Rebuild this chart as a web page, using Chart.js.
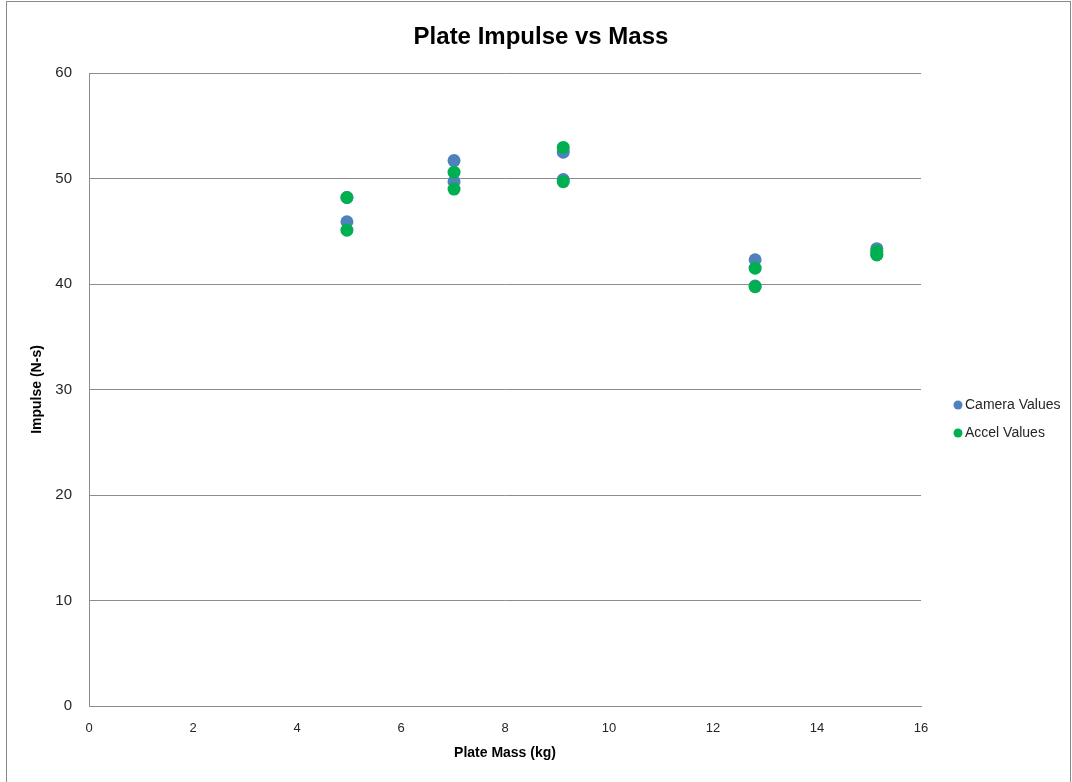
<!DOCTYPE html>
<html>
<head>
<meta charset="utf-8">
<title>Plate Impulse vs Mass</title>
<script src="https://cdn.jsdelivr.net/npm/chart.js@4.4.1/dist/chart.umd.min.js"></script>
<style>
  html, body { margin: 0; padding: 0; background: #ffffff; }
  #wrap { position: relative; width: 1072px; height: 782px; }
  canvas { display: block; }
</style>
</head>
<body>
<div id="wrap"><canvas id="chart" width="1072" height="782"></canvas></div>
<script>
// Plate mass for each drop (two drops per plate)
const massKg = [4.96, 4.96, 7.02, 7.02, 9.12, 9.12, 12.81, 12.81, 15.15, 15.15];
// Impulse from camera tracking (N-s)
const cameraImpulse = [48.2, 45.9, 51.7, 49.7, 52.5, 49.9, 42.3, 39.8, 43.35, 42.8];
// Impulse from accelerometer (N-s)
const accelImpulse = [48.2, 45.1, 50.6, 49.0, 52.95, 49.7, 41.5, 39.75, 43.1, 42.75];

const seriesNames = ['Camera Values', 'Accel Values'];
const seriesColors = ['#4F81BD', '#00B050'];
const chartTitle = 'Plate Impulse vs Mass';

const xTicks = [0, 2, 4, 6, 8, 10, 12, 14, 16];
const yTicks = [0, 10, 20, 30, 40, 50, 60];

const FONT = "'Liberation Sans', 'DejaVu Sans', sans-serif";

function toPoints(xs, ys) {
  return xs.map((x, i) => ({ x: x, y: ys[i] }));
}

// Outer frame, centred title and right-hand legend
const frameTitleLegend = {
  id: 'frameTitleLegend',
  afterDraw(chart) {
    const ctx = chart.ctx;
    ctx.save();
    ctx.strokeStyle = '#8a8a8a';
    ctx.lineWidth = 1;
    ctx.strokeRect(6.5, 1.5, 1064, 800);

    ctx.fillStyle = '#000000';
    ctx.font = 'bold 24px ' + FONT;
    ctx.textAlign = 'center';
    ctx.textBaseline = 'middle';
    ctx.fillText(chartTitle, chart.width / 2 + 5, 37);

    const lx = 958, ly = [405, 433];
    ctx.font = '14px ' + FONT;
    ctx.textAlign = 'left';
    chart.data.datasets.forEach((ds, i) => {
      ctx.fillStyle = ds.backgroundColor;
      ctx.beginPath();
      ctx.arc(lx, ly[i], 4.5, 0, Math.PI * 2);
      ctx.fill();
      ctx.fillStyle = '#262626';
      ctx.fillText(ds.label, lx + 7, ly[i] + 0.5);
    });
    ctx.restore();
  }
};

new Chart(document.getElementById('chart'), {
  type: 'scatter',
  data: {
    datasets: [
      {
        label: seriesNames[0],
        data: toPoints(massKg, cameraImpulse),
        backgroundColor: seriesColors[0],
        borderWidth: 0,
        pointRadius: 6.5,
        pointHoverRadius: 6.5,
        order: 2
      },
      {
        label: seriesNames[1],
        data: toPoints(massKg, accelImpulse),
        backgroundColor: seriesColors[1],
        borderWidth: 0,
        pointRadius: 6.5,
        pointHoverRadius: 6.5,
        order: 1
      }
    ]
  },
  options: {
    responsive: false,
    animation: false,
    events: [],
    layout: { padding: { left: 0, right: 151, top: 73, bottom: 0 } },
    plugins: {
      legend: { display: false },
      tooltip: { enabled: false },
      title: { display: false }
    },
    scales: {
      x: {
        type: 'linear',
        min: 0,
        max: 16,
        afterFit(scale) { scale.height = 76; },
        afterBuildTicks(scale) { scale.ticks = xTicks.map(v => ({ value: v })); },
        grid: { display: false, drawTicks: false },
        border: { display: true, color: '#8c8c8c', width: 1 },
        ticks: {
          padding: 15,
          color: '#262626',
          maxRotation: 0,
          font: { family: FONT, size: 13 }
        },
        title: {
          display: true,
          text: 'Plate Mass (kg)',
          color: '#000000',
          font: { family: FONT, size: 14, weight: 'bold', lineHeight: 1.2 },
          padding: { top: 0, bottom: 20 }
        }
      },
      y: {
        type: 'linear',
        min: 0,
        max: 60,
        afterFit(scale) { scale.width = 89; },
        afterBuildTicks(scale) { scale.ticks = yTicks.map(v => ({ value: v })); },
        grid: { display: true, drawTicks: false, color: '#8c8c8c', lineWidth: 1 },
        border: { display: true, color: '#8c8c8c', width: 1 },
        ticks: {
          padding: 17,
          color: '#262626',
          font: { family: FONT, size: 15 }
        },
        title: {
          display: true,
          text: 'Impulse (N-s)',
          color: '#000000',
          font: { family: FONT, size: 14, weight: 'bold', lineHeight: 1.2 },
          padding: { top: 29, bottom: 0 }
        }
      }
    }
  },
  plugins: [frameTitleLegend]
});
</script>
</body>
</html>
